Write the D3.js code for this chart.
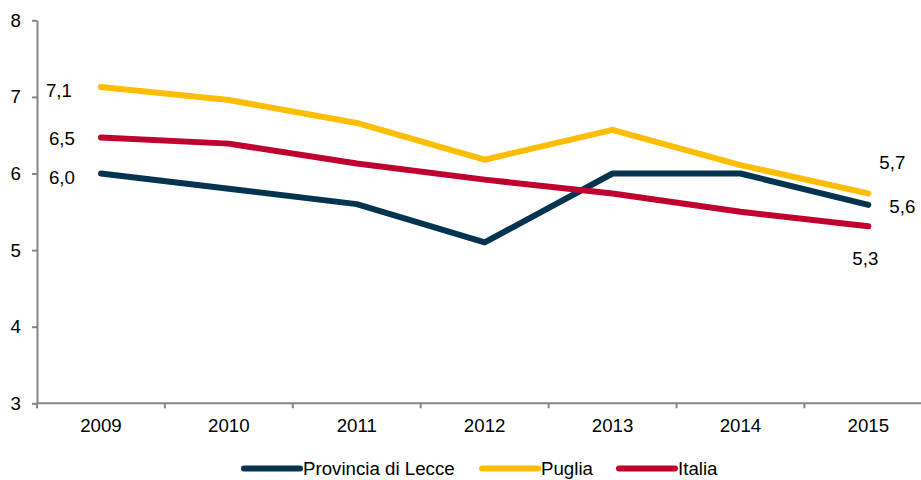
<!DOCTYPE html>
<html>
<head>
<meta charset="utf-8">
<script src="https://cdn.jsdelivr.net/npm/d3@7"></script>
<style>
  body { margin: 0; background: #fff; }
  svg { display: block; font-family: "Liberation Sans", Arial, sans-serif; }
</style>
</head>
<body>
<svg id="chart" width="921" height="480"></svg>
<script>
// data
const years = ['2009', '2010', '2011', '2012', '2013', '2014', '2015'];
const lecce  = [6.0, 5.8, 5.6, 5.1, 6.0, 6.0, 5.59];
const puglia = [7.13, 6.96, 6.66, 6.18, 6.57, 6.11, 5.74];
const italia = [6.47, 6.39, 6.13, 5.92, 5.74, 5.5, 5.31];
const yTicks = [3, 4, 5, 6, 7, 8];

const series = [
  { name: 'Provincia di Lecce', values: lecce,  color: '#04344f' },
  { name: 'Puglia',             values: puglia, color: '#fdbd00' },
  { name: 'Italia',             values: italia, color: '#c0002f' }
];

const svg = d3.select('#chart');
const plotLeft = 37, plotTop = 20.3, plotBottom = 403.3, step = 127.9;

const x = d3.scaleBand().domain(years).range([plotLeft, plotLeft + step * years.length]);
const y = d3.scaleLinear().domain([3, 8]).range([plotBottom, plotTop]);
const cx = d => x(d) + x.bandwidth() / 2;
const fmt = v => d3.format('.1f')(v).replace('.', ',');

const axisColor = '#868686';

// y axis
const gy = svg.append('g').attr('transform', `translate(${plotLeft},0)`)
  .call(d3.axisLeft(y).tickValues(yTicks).tickSize(5).tickSizeOuter(0).tickPadding(11).tickFormat(d3.format('d')));
gy.select('.domain').attr('stroke', axisColor).attr('stroke-width', 2);
gy.selectAll('.tick line').attr('stroke', axisColor).attr('stroke-width', 2);
gy.selectAll('.tick text').attr('font-size', 18.7).attr('fill', '#000');
gy.attr('font-family', null);

// x axis: labels centred on categories, tick marks between them
const gx = svg.append('g').attr('transform', `translate(0,${plotBottom})`)
  .call(d3.axisBottom(x).tickSize(0).tickPadding(15.5));
gx.select('.domain').remove();
gx.selectAll('.tick text').attr('font-size', 18.7).attr('fill', '#000');
gx.attr('font-family', null);
svg.append('line')
  .attr('x1', plotLeft).attr('x2', 921).attr('y1', plotBottom).attr('y2', plotBottom)
  .attr('stroke', axisColor).attr('stroke-width', 2);
svg.selectAll('.xtick').data(years).join('line').attr('class', 'xtick')
  .attr('x1', d => x(d)).attr('x2', d => x(d))
  .attr('y1', plotBottom).attr('y2', plotBottom + 5)
  .attr('stroke', axisColor).attr('stroke-width', 2);

// lines
const line = d3.line().x((d, i) => cx(years[i])).y(d => y(d));
svg.selectAll('.series').data(series).join('path').attr('class', 'series')
  .attr('d', d => line(d.values))
  .attr('fill', 'none')
  .attr('stroke', d => d.color)
  .attr('stroke-width', 6)
  .attr('stroke-linejoin', 'round')
  .attr('stroke-linecap', 'round');

// data labels at first and last year
const first = years[0], last = years[years.length - 1];
const labels = [
  { v: puglia[0], yr: first, dx: -42, dy: 4 },
  { v: italia[0], yr: first, dx: -39, dy: 1 },
  { v: lecce[0],  yr: first, dx: -39, dy: 4 },
  { v: puglia[6], yr: last,  dx: 24,  dy: -31 },
  { v: lecce[6],  yr: last,  dx: 34,  dy: 2 },
  { v: italia[6], yr: last,  dx: -3,  dy: 32 }
];
svg.selectAll('.dlabel').data(labels).join('text').attr('class', 'dlabel')
  .attr('x', d => cx(d.yr) + d.dx)
  .attr('y', d => y(d.v) + d.dy)
  .attr('text-anchor', 'middle')
  .attr('dominant-baseline', 'central')
  .attr('font-size', 18.7)
  .attr('fill', '#000')
  .text(d => fmt(d.v));

// legend
const legendX = [244, 482, 619];
const lg = svg.selectAll('.legend').data(series).join('g').attr('class', 'legend')
  .attr('transform', (d, i) => `translate(${legendX[i]},468.5)`);
lg.append('line').attr('x1', 0).attr('x2', 56)
  .attr('stroke', d => d.color).attr('stroke-width', 6).attr('stroke-linecap', 'round');
lg.append('text').attr('x', 59).attr('dominant-baseline', 'central')
  .attr('font-size', 18.7).attr('fill', '#000').text(d => d.name);
</script>
</body>
</html>
